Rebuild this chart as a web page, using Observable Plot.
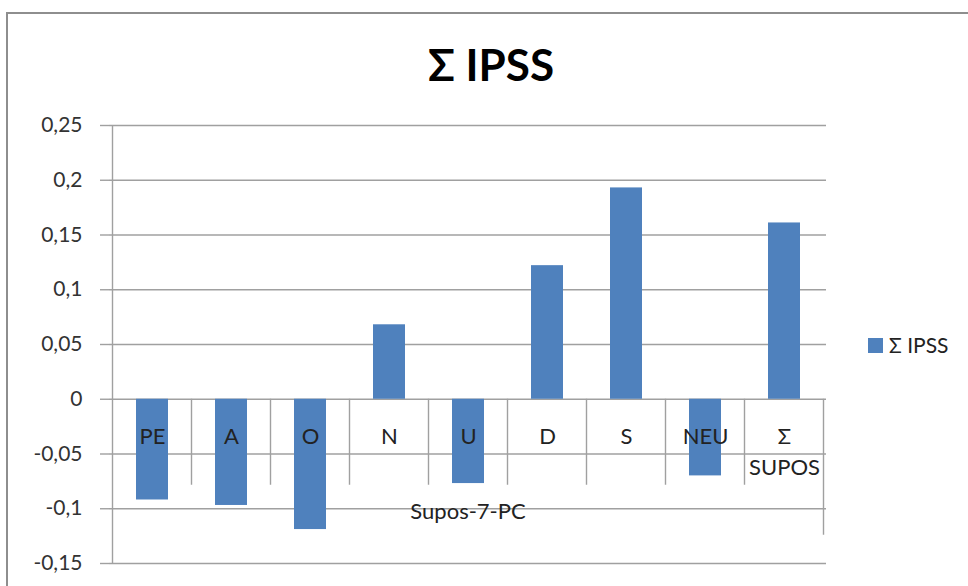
<!DOCTYPE html>
<html><head><meta charset="utf-8">
<script src="https://cdn.jsdelivr.net/npm/d3@7"></script>
<script src="https://cdn.jsdelivr.net/npm/@observablehq/plot@0.6"></script>
<style>
body{margin:0;background:#fff;overflow:hidden;font-family:Lato,sans-serif;}
#wrap{position:relative;width:968px;height:586px;overflow:hidden;background:#fff;}
#border{position:absolute;left:6px;top:12px;width:1000px;height:700px;border-left:2px solid #8e8e8e;border-top:2px solid #8e8e8e;}
#chart{position:absolute;left:0;top:0;}
#title{position:absolute;left:0;width:982px;top:42px;text-align:center;font:bold 44px Lato,sans-serif;color:#000;line-height:1;}
#legend{position:absolute;left:868px;top:334px;font-size:21px;color:#222;display:flex;align-items:center;line-height:22px;}
#legend .sw{display:inline-block;width:15px;height:15px;background:#4f81bd;margin-right:6px;}
</style></head><body>
<div id="wrap"><div id="border"></div><div id="chart"></div><div id="title"></div><div id="legend"></div></div>
<script>
const categories = ["PE", "A", "O", "N", "U", "D", "S", "NEU", "Σ SUPOS"];
const values = [-0.092, -0.097, -0.119, 0.068, -0.077, 0.122, 0.193, -0.070, 0.161];
const yTicks = [-0.15, -0.1, -0.05, 0, 0.05, 0.1, 0.15, 0.2, 0.25];
const seriesName = "Σ IPSS";
const chartTitle = "Σ IPSS";
const groupLabel = "Supos-7-PC";

const data = categories.map((c, i) => ({category: c, value: values[i]}));
const barColor = "#4f81bd";
const gridColor = "#a0a0a0";
const fmt = d => String(d).replace(".", ",");

const plot = Plot.plot({
  width: 968,
  height: 586,
  marginLeft: 109,
  marginRight: 142,
  marginTop: 125,
  marginBottom: 23,
  style: {fontFamily: "Lato, sans-serif", fontSize: "21px", background: "transparent", color: "#333"},
  x: {type: "band", domain: categories, paddingInner: 0.6, paddingOuter: 0.3, axis: null},
  y: {domain: [-0.15, 0.25], axis: null},
  marks: [
    Plot.gridY(yTicks, {stroke: gridColor, strokeOpacity: 1, strokeWidth: 1.4}),
    Plot.axisY(yTicks, {tickSize: 9, tickPadding: 18, tickFormat: fmt, stroke: gridColor, strokeWidth: 1.4, color: "#333", fontSize: 21, label: null}),
    Plot.barY(data, {x: "category", y: "value", fill: barColor}),
    Plot.text(data, {x: "category", y: () => 0, text: d => d.category.split(" ").join("\n"), lineAnchor: "top", dy: 23, lineHeight: 1.4, fontSize: 22, fill: "#222"}),
    Plot.text([groupLabel], {frameAnchor: "bottom", text: d => d, dy: -45, fontSize: 22, fill: "#222"})
  ]
});

// Excel-like category axis box lines, derived from Plot's own scales
const xs = plot.scale("x"), ys = plot.scale("y");
const y0 = ys.apply(0);
const g = d3.select(plot).append("g").attr("stroke", gridColor).attr("stroke-width", 1.4);
const left = xs.apply(categories[0]) + xs.bandwidth / 2 - xs.step / 2;
g.append("line").attr("x1", left).attr("x2", left).attr("y1", ys.apply(0.25)).attr("y2", ys.apply(-0.15));
categories.forEach((c, i) => {
  const right = xs.apply(c) + xs.bandwidth / 2 + xs.step / 2;
  const last = i === categories.length - 1;
  g.append("line").attr("x1", right).attr("x2", right).attr("y1", y0).attr("y2", y0 + (last ? 136 : 86));
});

document.getElementById("chart").appendChild(plot);
document.getElementById("title").textContent = chartTitle;
document.getElementById("legend").innerHTML = '<span class="sw"></span><span></span>';
document.querySelector("#legend span:last-child").textContent = seriesName;
</script>
</body></html>
